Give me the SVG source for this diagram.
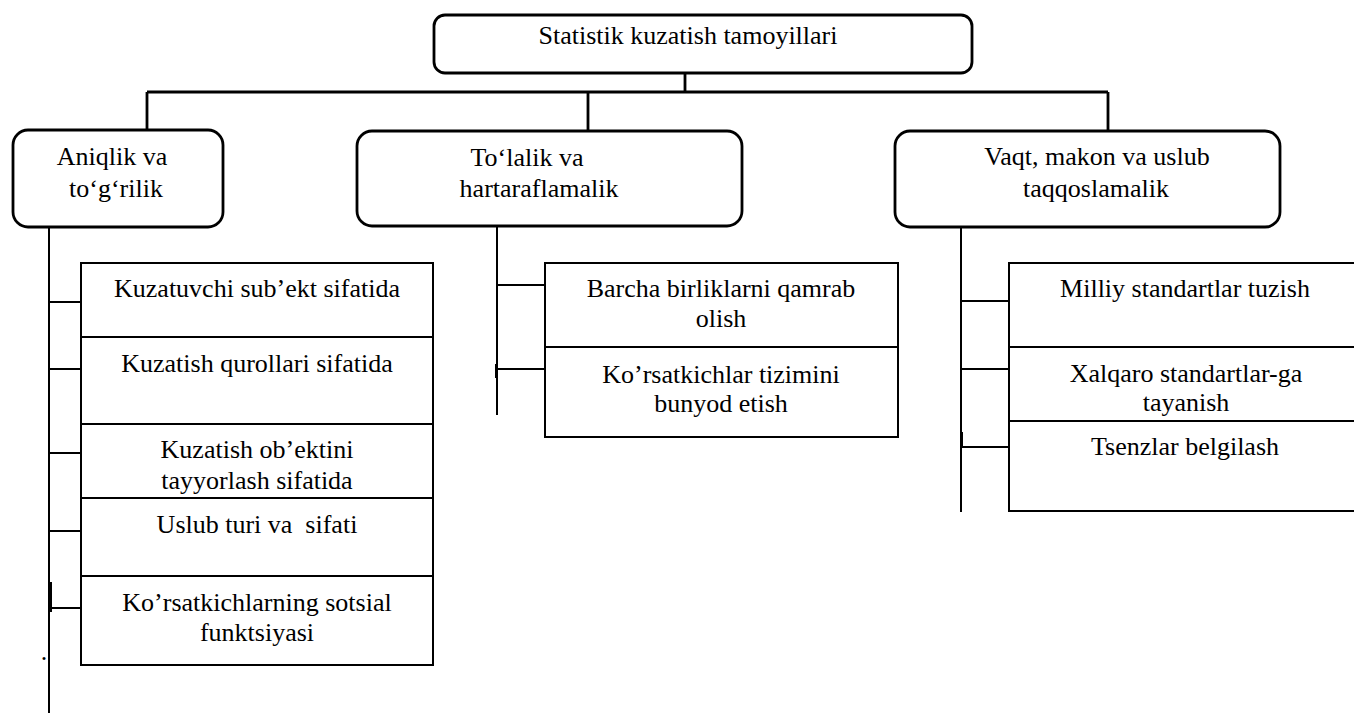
<svg xmlns="http://www.w3.org/2000/svg" width="1354" height="713" viewBox="0 0 1354 713">
<style>
.bg{fill:#fff}
.rb{fill:#fff;stroke:#000;stroke-width:2.8}
.sb{fill:#fff;stroke:#000;stroke-width:2}
.c1{stroke:#000;stroke-width:2.8;fill:none}
.c2{stroke:#000;stroke-width:2;fill:none}
.t text{font-size:26px;fill:#000;text-anchor:middle;white-space:pre}
</style>
<rect class="bg" x="0" y="0" width="1354" height="713"/>
<g id="connectors">
<path class="c1" d="M685 73V92M147 92H1108M147 92V130M588 92V131M1108 92V131"/>
<path class="c2" d="M49 227V713M49 302H81M49 369H81M49 453H81M49 531H81M49 608H81"/>
<path class="c2" d="M51 582V612"/>
<path class="c2" d="M497 226V415M497 285H545M497 369H545"/>
<path class="c2" d="M496 364V378"/>
<path class="c2" d="M961 227V512M961 301H1009M961 369H1009M961 447H1009"/>
<path class="c2" d="M962 432V447"/>
</g>
<g class="t" font-family="Liberation Serif, Tinos, DejaVu Serif, Noto Serif, serif">
<g id="root">
<rect class="rb" x="434" y="15" width="538" height="58" rx="11"/>
<text x="688" y="44">Statistik kuzatish tamoyillari</text>
</g>
<g id="aniqlik">
<rect class="rb" x="13" y="130" width="210" height="97" rx="15"/>
<text x="112" y="165">Aniqlik va</text>
<text x="116" y="197">to‘g‘rilik</text>
</g>
<g id="tolalik">
<rect class="rb" x="357" y="131" width="385" height="95" rx="15"/>
<text x="527" y="166">To‘lalik va</text>
<text x="539" y="197">hartaraflamalik</text>
</g>
<g id="vaqt">
<rect class="rb" x="895" y="131" width="385" height="96" rx="15"/>
<text x="1097" y="165">Vaqt, makon va uslub</text>
<text x="1096" y="197">taqqoslamalik</text>
</g>
<g id="a1"><rect class="sb" x="81" y="263" width="352" height="74"/><text x="257" y="297">Kuzatuvchi sub’ekt sifatida</text></g>
<g id="a2"><rect class="sb" x="81" y="337" width="352" height="87"/><text x="257" y="372">Kuzatish qurollari sifatida</text></g>
<g id="a3"><rect class="sb" x="81" y="424" width="352" height="74"/><text x="257" y="458">Kuzatish ob’ektini</text><text x="257" y="489">tayyorlash sifatida</text></g>
<g id="a4"><rect class="sb" x="81" y="498" width="352" height="78"/><text x="257" y="533">Uslub turi va  sifati</text></g>
<g id="a5"><rect class="sb" x="81" y="576" width="352" height="89"/><text x="257" y="611">Ko’rsatkichlarning sotsial</text><text x="257" y="641">funktsiyasi</text></g>
<g id="t1"><rect class="sb" x="545" y="263" width="353" height="84"/><text x="721" y="297">Barcha birliklarni qamrab</text><text x="721" y="327">olish</text></g>
<g id="t2"><rect class="sb" x="545" y="347" width="353" height="90"/><text x="721" y="383">Ko’rsatkichlar tizimini</text><text x="721" y="412">bunyod etish</text></g>
<g id="v1"><rect class="sb" x="1009" y="263" width="352" height="84"/><text x="1185" y="297">Milliy standartlar tuzish</text></g>
<g id="v2"><rect class="sb" x="1009" y="347" width="352" height="74"/><text x="1186" y="382">Xalqaro standartlar-ga</text><text x="1186" y="411">tayanish</text></g>
<g id="v3"><rect class="sb" x="1009" y="421" width="352" height="90"/><text x="1185" y="455">Tsenzlar belgilash</text></g>
<text x="44" y="660" font-size="14">.</text>
</g>
</svg>
